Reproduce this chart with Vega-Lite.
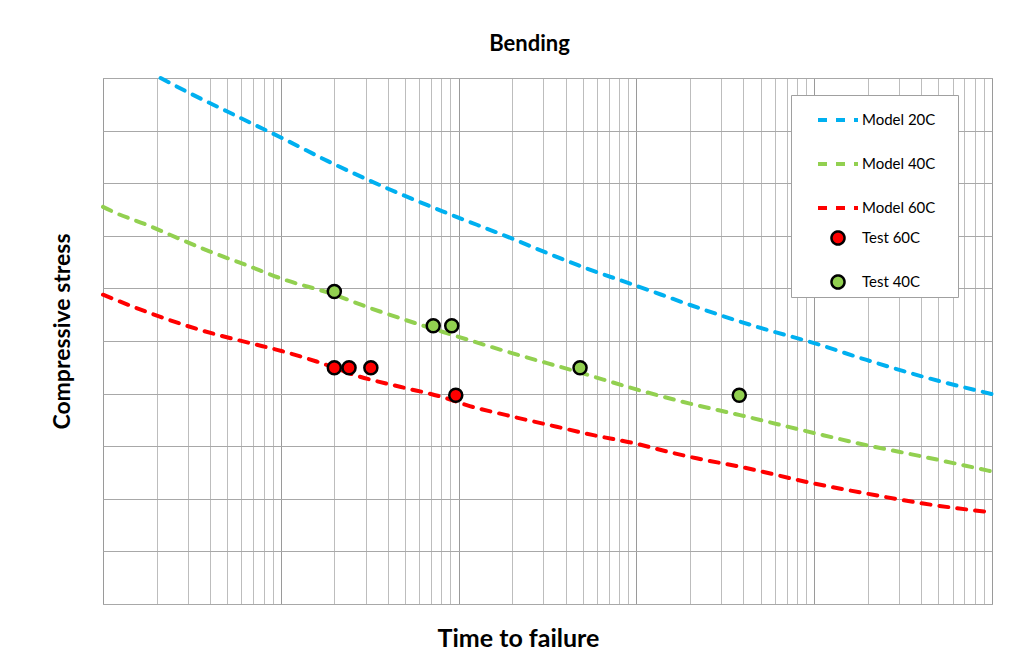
{
  "$schema": "https://vega.github.io/schema/vega-lite/v6.json",
  "width": 889,
  "height": 526,
  "autosize": {"type": "none"},
  "padding": {"left": 103, "top": 78, "right": 21, "bottom": 61},
  "background": "white",
  "config": {"view": {"stroke": "#A0A0A0", "strokeWidth": 1}, "font": "Lato"},
  "title": {"text": "Bending", "font": "Lato", "fontSize": 22, "fontWeight": "bold", "color": "black", "anchor": "middle", "dx": -18, "offset": -3, "baseline": "alphabetic"},
  "data": {"values": [
    {"series": "Model 20C", "kind": "model", "time": 2.11, "stress": 10.0},
    {"series": "Model 20C", "kind": "model", "time": 3.08, "stress": 9.71},
    {"series": "Model 20C", "kind": "model", "time": 4.75, "stress": 9.40},
    {"series": "Model 20C", "kind": "model", "time": 7.98, "stress": 9.03},
    {"series": "Model 20C", "kind": "model", "time": 10, "stress": 8.87},
    {"series": "Model 20C", "kind": "model", "time": 18.9, "stress": 8.40},
    {"series": "Model 20C", "kind": "model", "time": 39.8, "stress": 7.90},
    {"series": "Model 20C", "kind": "model", "time": 82, "stress": 7.46},
    {"series": "Model 20C", "kind": "model", "time": 199, "stress": 6.95},
    {"series": "Model 20C", "kind": "model", "time": 327, "stress": 6.65},
    {"series": "Model 20C", "kind": "model", "time": 525, "stress": 6.38},
    {"series": "Model 20C", "kind": "model", "time": 1000, "stress": 6.05},
    {"series": "Model 20C", "kind": "model", "time": 2280, "stress": 5.62},
    {"series": "Model 20C", "kind": "model", "time": 4750, "stress": 5.27},
    {"series": "Model 20C", "kind": "model", "time": 10000, "stress": 4.96},
    {"series": "Model 20C", "kind": "model", "time": 19700, "stress": 4.64},
    {"series": "Model 20C", "kind": "model", "time": 41100, "stress": 4.32},
    {"series": "Model 20C", "kind": "model", "time": 100000, "stress": 3.99},
    {"series": "Model 40C", "kind": "model", "time": 1, "stress": 7.55},
    {"series": "Model 40C", "kind": "model", "time": 1.17, "stress": 7.44},
    {"series": "Model 40C", "kind": "model", "time": 1.76, "stress": 7.21},
    {"series": "Model 40C", "kind": "model", "time": 2.38, "stress": 7.02},
    {"series": "Model 40C", "kind": "model", "time": 4, "stress": 6.70},
    {"series": "Model 40C", "kind": "model", "time": 6.43, "stress": 6.44},
    {"series": "Model 40C", "kind": "model", "time": 10, "stress": 6.19},
    {"series": "Model 40C", "kind": "model", "time": 20, "stress": 5.88},
    {"series": "Model 40C", "kind": "model", "time": 30.4, "stress": 5.65},
    {"series": "Model 40C", "kind": "model", "time": 60.7, "stress": 5.31},
    {"series": "Model 40C", "kind": "model", "time": 85.7, "stress": 5.15},
    {"series": "Model 40C", "kind": "model", "time": 186, "stress": 4.80},
    {"series": "Model 40C", "kind": "model", "time": 482, "stress": 4.40},
    {"series": "Model 40C", "kind": "model", "time": 1000, "stress": 4.08},
    {"series": "Model 40C", "kind": "model", "time": 2000, "stress": 3.81},
    {"series": "Model 40C", "kind": "model", "time": 3830, "stress": 3.59},
    {"series": "Model 40C", "kind": "model", "time": 10000, "stress": 3.25},
    {"series": "Model 40C", "kind": "model", "time": 19700, "stress": 3.02},
    {"series": "Model 40C", "kind": "model", "time": 41100, "stress": 2.80},
    {"series": "Model 40C", "kind": "model", "time": 100000, "stress": 2.52},
    {"series": "Model 60C", "kind": "model", "time": 1, "stress": 5.88},
    {"series": "Model 60C", "kind": "model", "time": 1.84, "stress": 5.53},
    {"series": "Model 60C", "kind": "model", "time": 3.52, "stress": 5.21},
    {"series": "Model 60C", "kind": "model", "time": 6.71, "stress": 4.96},
    {"series": "Model 60C", "kind": "model", "time": 10.1, "stress": 4.81},
    {"series": "Model 60C", "kind": "model", "time": 15.9, "stress": 4.61},
    {"series": "Model 60C", "kind": "model", "time": 27.9, "stress": 4.32},
    {"series": "Model 60C", "kind": "model", "time": 46.8, "stress": 4.13},
    {"series": "Model 60C", "kind": "model", "time": 85.7, "stress": 3.91},
    {"series": "Model 60C", "kind": "model", "time": 111, "stress": 3.78},
    {"series": "Model 60C", "kind": "model", "time": 186, "stress": 3.59},
    {"series": "Model 60C", "kind": "model", "time": 356, "stress": 3.37},
    {"series": "Model 60C", "kind": "model", "time": 573, "stress": 3.21},
    {"series": "Model 60C", "kind": "model", "time": 960, "stress": 3.06},
    {"series": "Model 60C", "kind": "model", "time": 1610, "stress": 2.87},
    {"series": "Model 60C", "kind": "model", "time": 2180, "stress": 2.77},
    {"series": "Model 60C", "kind": "model", "time": 3830, "stress": 2.61},
    {"series": "Model 60C", "kind": "model", "time": 10000, "stress": 2.29},
    {"series": "Model 60C", "kind": "model", "time": 19700, "stress": 2.10},
    {"series": "Model 60C", "kind": "model", "time": 41100, "stress": 1.91},
    {"series": "Model 60C", "kind": "model", "time": 100000, "stress": 1.74},
    {"series": "Test 40C", "kind": "test", "time": 20, "stress": 5.94},
    {"series": "Test 40C", "kind": "test", "time": 72, "stress": 5.29},
    {"series": "Test 40C", "kind": "test", "time": 91.5, "stress": 5.29},
    {"series": "Test 40C", "kind": "test", "time": 482, "stress": 4.49},
    {"series": "Test 40C", "kind": "test", "time": 3790, "stress": 3.97},
    {"series": "Test 60C", "kind": "test", "time": 20, "stress": 4.49},
    {"series": "Test 60C", "kind": "test", "time": 24.2, "stress": 4.49},
    {"series": "Test 60C", "kind": "test", "time": 32.1, "stress": 4.49},
    {"series": "Test 60C", "kind": "test", "time": 96.4, "stress": 3.97}
  ]},
  "encoding": {
    "x": {
      "field": "time", "type": "quantitative",
      "scale": {"type": "log", "domain": [1, 100000]},
      "axis": {
        "title": "Time to failure",
        "labels": false, "ticks": false, "domain": false, "grid": true,
        "values": [1,2,3,4,5,6,7,8,9,10,20,30,40,50,60,70,80,90,100,200,300,400,500,600,700,800,900,1000,2000,3000,4000,5000,6000,7000,8000,9000,10000,20000,30000,40000,50000,60000,70000,80000,90000,100000],
        "gridColor": {"condition": {"test": "indexof([1,10,100,1000,10000,100000], datum.value) >= 0", "value": "#9A9A9A"}, "value": "#BDBDBD"},
        "gridWidth": 1,
        "titleFont": "Lato", "titleFontSize": 25, "titleFontWeight": "bold", "titleColor": "black",
        "titleX": 415, "titleY": 42, "titleBaseline": "alphabetic", "titleAlign": "center"
      }
    },
    "y": {
      "field": "stress", "type": "quantitative",
      "scale": {"domain": [0, 10], "nice": false},
      "axis": {
        "title": "Compressive stress",
        "labels": false, "ticks": false, "domain": false, "grid": true,
        "values": [0,1,2,3,4,5,6,7,8,9,10],
        "gridColor": "#A8A8A8",
        "titleFont": "Lato", "titleFontSize": 23, "titleFontWeight": "bold", "titleColor": "black",
        "titleX": -34, "titleY": 253, "titleAngle": -90, "titleBaseline": "alphabetic", "titleAlign": "center"
      }
    },
    "stroke": {
      "field": "series", "type": "nominal",
      "scale": {"domain": ["Model 20C", "Model 40C", "Model 60C", "Test 60C", "Test 40C"], "range": ["#00B0F0", "#92D050", "#FF0000", "black", "black"]},
      "legend": {"title": "\u00a0", "titleOrient": "right", "titlePadding": 20, "titleFontSize": 10, "orient": "none", "legendX": 688, "legendY": 17, "padding": 3, "strokeColor": "#A0A0A0", "fillColor": "white", "symbolOffset": 22, "labelOffset": 2, "rowPadding": 10, "gridAlign": "all", "labelFont": "Lato", "labelFontSize": 15, "labelColor": "black"}
    },
    "strokeWidth": {
      "field": "series", "type": "nominal",
      "scale": {"type": "ordinal", "domain": ["Model 20C", "Model 40C", "Model 60C", "Test 60C", "Test 40C"], "range": [4, 4, 4, 2.5, 2.5]},
      "legend": {"title": "\u00a0", "titleOrient": "right", "titlePadding": 20, "titleFontSize": 10, "orient": "none", "legendX": 688, "legendY": 17, "padding": 3, "strokeColor": "#A0A0A0", "fillColor": "white", "symbolOffset": 22, "labelOffset": 2, "rowPadding": 10, "gridAlign": "all", "labelFont": "Lato", "labelFontSize": 15, "labelColor": "black"}
    }
  },
  "layer": [
    {
      "transform": [{"filter": "datum.kind === 'model'"}],
      "mark": {"type": "line", "strokeCap": "round", "interpolate": "monotone"},
      "encoding": {
        "strokeDash": {
          "field": "series", "type": "nominal",
          "scale": {"domain": ["Model 20C", "Model 40C", "Model 60C", "Test 60C", "Test 40C"], "range": [[9, 9], [9, 9], [9, 9], [1, 0], [1, 0]]},
          "legend": {"title": "\u00a0", "titleOrient": "right", "titlePadding": 20, "titleFontSize": 10, "orient": "none", "legendX": 688, "legendY": 17, "padding": 3, "strokeColor": "#A0A0A0", "fillColor": "white", "symbolOffset": 22, "labelOffset": 2, "rowPadding": 10, "gridAlign": "all", "labelFont": "Lato", "labelFontSize": 15, "labelColor": "black"}
        }
      }
    },
    {
      "transform": [{"filter": "datum.kind === 'test'"}],
      "mark": {"type": "point", "filled": true, "opacity": 1},
      "encoding": {
        "fill": {
          "field": "series", "type": "nominal",
          "scale": {"domain": ["Model 20C", "Model 40C", "Model 60C", "Test 60C", "Test 40C"], "range": ["transparent", "transparent", "transparent", "#FF0000", "#92D050"]},
          "legend": {"title": "\u00a0", "titleOrient": "right", "titlePadding": 20, "titleFontSize": 10, "orient": "none", "legendX": 688, "legendY": 17, "padding": 3, "strokeColor": "#A0A0A0", "fillColor": "white", "symbolOffset": 22, "labelOffset": 2, "rowPadding": 10, "gridAlign": "all", "labelFont": "Lato", "labelFontSize": 15, "labelColor": "black"}
        },
        "shape": {
          "field": "series", "type": "nominal",
          "scale": {"domain": ["Model 20C", "Model 40C", "Model 60C", "Test 60C", "Test 40C"], "range": ["stroke", "stroke", "stroke", "circle", "circle"]},
          "legend": {"title": "\u00a0", "titleOrient": "right", "titlePadding": 20, "titleFontSize": 10, "orient": "none", "legendX": 688, "legendY": 17, "padding": 3, "strokeColor": "#A0A0A0", "fillColor": "white", "symbolOffset": 22, "labelOffset": 2, "rowPadding": 10, "gridAlign": "all", "labelFont": "Lato", "labelFontSize": 15, "labelColor": "black"}
        },
        "size": {
          "field": "series", "type": "nominal",
          "scale": {"type": "ordinal", "domain": ["Model 20C", "Model 40C", "Model 60C", "Test 60C", "Test 40C"], "range": [1600, 1600, 1600, 170, 170]},
          "legend": {"title": "\u00a0", "titleOrient": "right", "titlePadding": 20, "titleFontSize": 10, "orient": "none", "legendX": 688, "legendY": 17, "padding": 3, "strokeColor": "#A0A0A0", "fillColor": "white", "symbolOffset": 22, "labelOffset": 2, "rowPadding": 10, "gridAlign": "all", "labelFont": "Lato", "labelFontSize": 15, "labelColor": "black"}
        }
      }
    }
  ]
}
